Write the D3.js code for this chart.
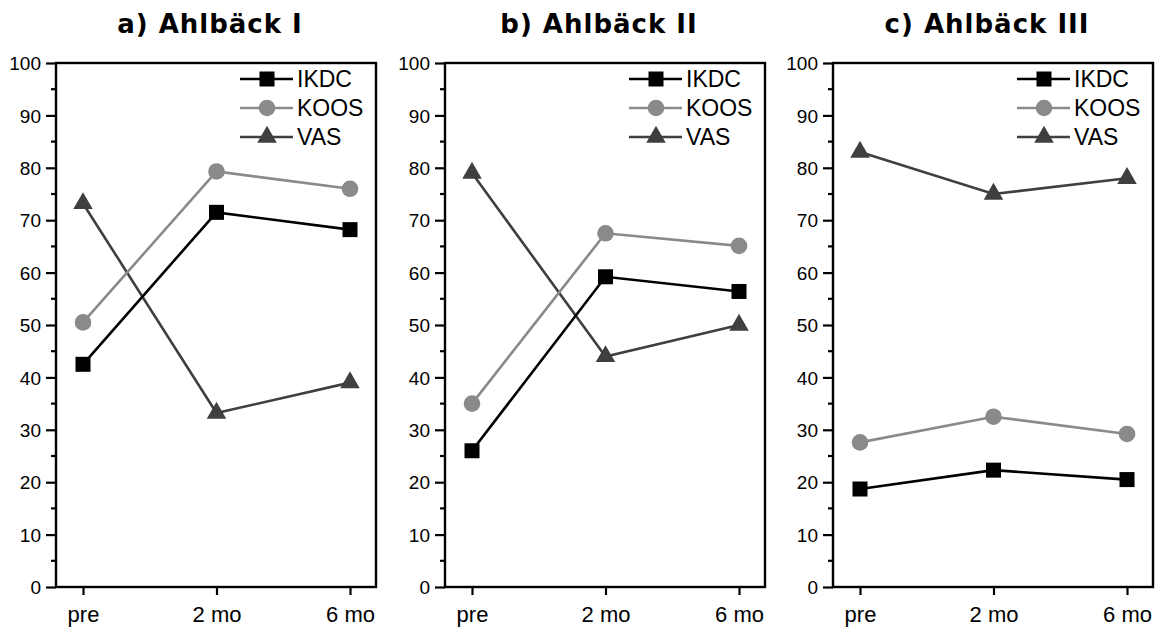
<!DOCTYPE html>
<html>
<head>
<meta charset="utf-8">
<script src="https://cdn.jsdelivr.net/npm/d3@7"></script>
<style>
  body { margin: 0; background: #fff; }
  svg text { font-family: "Liberation Sans", Arial, sans-serif; fill: #000; }
  .title { font-family: "DejaVu Sans", Verdana, sans-serif; font-weight: bold; }
</style>
</head>
<body>
<div class="chart"></div>
<script>
var timepoints = ["pre", "2 mo", "6 mo"];
var panelTitles = ["a) Ahlbäck I", "b) Ahlbäck II", "c) Ahlbäck III"];
var seriesNames = ["IKDC", "KOOS", "VAS"];

// values per panel (a, b, c), one array per series
var ikdc = [[42.5, 71.5, 68.2], [26.0, 59.2, 56.4], [18.7, 22.3, 20.5]];
var koos = [[50.5, 79.3, 76.0], [35.0, 67.5, 65.1], [27.6, 32.5, 29.2]];
var vas  = [[73.2, 33.2, 39.0], [79.0, 44.0, 50.0], [83.0, 75.0, 78.0]];

var yTicks = [0, 10, 20, 30, 40, 50, 60, 70, 80, 90, 100];

var svgWidth = 1156;
var svgHeight = 627;

var panelLeft = [56, 445, 833];
var panelW = 320;
var plotTop = 63, plotBottom = 587;

var colors = { IKDC: "#000000", KOOS: "#8a8a8a", VAS: "#3f3f3f" };

var svg = d3.select(".chart")
  .append("svg")
  .attr("width", svgWidth)
  .attr("height", svgHeight);

var yScale = d3.scaleLinear().domain([0, 100]).range([plotBottom, plotTop]);

function drawMarker(g, name, x, y) {
  if (name === "IKDC") {
    g.append("rect")
      .attr("x", x - 7.5).attr("y", y - 7.5)
      .attr("width", 15).attr("height", 15)
      .attr("fill", colors.IKDC);
  } else if (name === "KOOS") {
    g.append("circle")
      .attr("cx", x).attr("cy", y).attr("r", 8.3)
      .attr("fill", colors.KOOS);
  } else {
    g.append("path")
      .attr("d", d3.symbol().type(d3.symbolTriangle).size(165)())
      .attr("transform", `translate(${x}, ${y})`)
      .attr("fill", colors.VAS);
  }
}

panelTitles.forEach(function(title, p) {
  var g = svg.append("g")
    .attr("transform", `translate(${panelLeft[p]}, 0)`);

  var xScale = d3.scalePoint()
    .domain(timepoints)
    .range([27, 294]);

  // title
  g.append("text")
    .attr("class", "title")
    .attr("x", panelW / 2 - 6)
    .attr("y", 33)
    .attr("text-anchor", "middle")
    .attr("font-size", 26)
    .attr("letter-spacing", 1)
    .text(title);

  // frame
  g.append("rect")
    .attr("x", 0).attr("y", plotTop)
    .attr("width", panelW).attr("height", plotBottom - plotTop)
    .attr("fill", "none")
    .attr("stroke", "#000")
    .attr("stroke-width", 2.4);

  // y axis
  var leftAxis = d3.axisLeft(yScale)
    .tickValues(yTicks)
    .tickSize(10)
    .tickPadding(5);
  var ya = g.append("g").call(leftAxis);
  ya.select(".domain").remove();
  ya.selectAll("line").attr("stroke-width", 2.2);
  ya.selectAll("text").attr("font-size", 19).attr("dy", "0.35em");

  // minor ticks
  var minor = d3.range(5, 100, 10);
  g.append("g").selectAll("line")
    .data(minor)
    .enter()
    .append("line")
    .attr("x1", -5).attr("x2", 0)
    .attr("y1", d => yScale(d)).attr("y2", d => yScale(d))
    .attr("stroke", "#000")
    .attr("stroke-width", 2.2);

  // x axis
  var bottomAxis = d3.axisBottom(xScale)
    .tickSize(8)
    .tickPadding(10);
  var xa = g.append("g")
    .attr("transform", `translate(0, ${plotBottom})`)
    .call(bottomAxis);
  xa.select(".domain").remove();
  xa.selectAll("line").attr("stroke-width", 2.2);
  xa.selectAll("text").attr("font-size", 22).attr("dy", "0.75em");

  var panelData = [ikdc[p], koos[p], vas[p]];
  var line = d3.line()
    .x((d, i) => xScale(timepoints[i]))
    .y(d => yScale(d));

  // VAS first, then KOOS, IKDC on top
  [2, 1, 0].forEach(function(s) {
    var name = seriesNames[s];
    g.append("path")
      .datum(panelData[s])
      .attr("d", line)
      .attr("fill", "none")
      .attr("stroke", colors[name])
      .attr("stroke-width", 2.6);
    panelData[s].forEach(function(v, i) {
      drawMarker(g, name, xScale(timepoints[i]), yScale(v));
    });
  });

  // legend
  var legend = g.append("g");
  seriesNames.forEach(function(name, s) {
    var ly = 79 + s * 29;
    legend.append("line")
      .attr("x1", 184).attr("x2", 237)
      .attr("y1", ly).attr("y2", ly)
      .attr("stroke", colors[name])
      .attr("stroke-width", 2.6);
    drawMarker(legend, name, 211, ly);
    legend.append("text")
      .attr("x", 241)
      .attr("y", ly)
      .attr("dy", "0.36em")
      .attr("font-size", 23)
      .text(name);
  });
});
</script>
</body>
</html>
